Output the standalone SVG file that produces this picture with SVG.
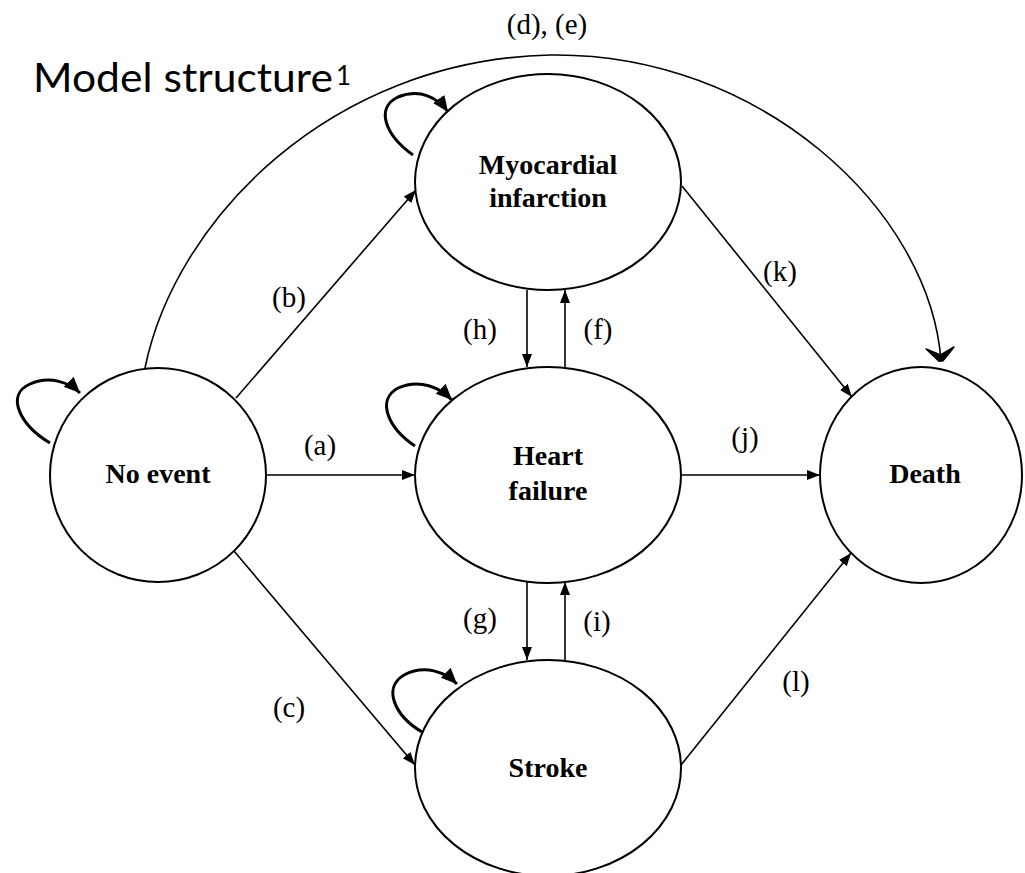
<svg xmlns="http://www.w3.org/2000/svg" width="1025" height="873" viewBox="0 0 1025 873">
  <defs>
    <style>
      .node { fill: #ffffff; stroke: #000000; stroke-width: 2; }
      .edge { fill: none; stroke: #000000; stroke-width: 1.6; }
      .loop { fill: none; stroke: #000000; stroke-width: 3; }
      .name { font-family: "Liberation Serif", "Times New Roman", serif; font-weight: bold; font-size: 28px; text-anchor: middle; fill: #000000; }
      .lbl { font-family: "Liberation Serif", "Times New Roman", serif; font-size: 29px; text-anchor: middle; fill: #000000; }
      .title { font-family: "Lato", "Liberation Sans", sans-serif; font-size: 40px; fill: #000000; }
    </style>
    <marker id="tri" markerUnits="userSpaceOnUse" markerWidth="14" markerHeight="12" viewBox="0 0 14 12" refX="13" refY="6" orient="auto">
      <path d="M0,1 L13,6 L0,11 Z" fill="#000000"/>
    </marker>
    <marker id="triLoop" markerUnits="userSpaceOnUse" markerWidth="18" markerHeight="16" viewBox="0 0 18 16" refX="16" refY="8" orient="auto">
      <path d="M0,1 L16,8 L0,15 Z" fill="#000000"/>
    </marker>
    <marker id="chev" markerUnits="userSpaceOnUse" markerWidth="20" markerHeight="32" viewBox="0 0 20 32" refX="16" refY="16" orient="auto">
      <path d="M3,2 L16,14 L16,18 L3,30 L10,16 Z" fill="#000000" stroke="#000000" stroke-width="1.5" stroke-linejoin="round"/>
    </marker>
  </defs>

  <rect width="1025" height="873" fill="#ffffff"/>

  <!-- title -->
  <text class="title" x="33" y="92" textLength="300" lengthAdjust="spacingAndGlyphs">Model structure</text>
  <text class="title" x="336" y="85" style="font-size:26px">1</text>

  <!-- transitions -->
  <g id="connectors">
    <!-- (d), (e): No event to Death -->
    <path class="edge" d="M145,368 C175,220 330,60 550,55 C760,52 930,210 941,361" marker-end="url(#chev)"/>
    <!-- (a) -->
    <line class="edge" x1="267" y1="475" x2="415" y2="475" marker-end="url(#tri)"/>
    <!-- (b) -->
    <line class="edge" x1="236" y1="398" x2="416" y2="190" marker-end="url(#tri)"/>
    <!-- (c) -->
    <line class="edge" x1="234" y1="551" x2="415" y2="765" marker-end="url(#tri)"/>
    <!-- (h) / (f) -->
    <line class="edge" x1="527" y1="290" x2="527" y2="367" marker-end="url(#tri)"/>
    <line class="edge" x1="565" y1="367" x2="565" y2="290" marker-end="url(#tri)"/>
    <!-- (g) / (i) -->
    <line class="edge" x1="527" y1="582" x2="527" y2="660" marker-end="url(#tri)"/>
    <line class="edge" x1="565" y1="660" x2="565" y2="582" marker-end="url(#tri)"/>
    <!-- (j) -->
    <line class="edge" x1="681" y1="475" x2="820" y2="475" marker-end="url(#tri)"/>
    <!-- (k) -->
    <line class="edge" x1="682" y1="186" x2="852" y2="397" marker-end="url(#tri)"/>
    <!-- (l) -->
    <line class="edge" x1="681" y1="765" x2="851" y2="553" marker-end="url(#tri)"/>

    <!-- self transitions -->
    <path class="loop" d="M50,443 C20,425 5,395 30,384 C50,375 70,383 80,393" marker-end="url(#triLoop)"/>
    <path class="loop" d="M413,155 C385,135 375,108 398,97 C420,88 438,98 448,112" marker-end="url(#triLoop)"/>
    <path class="loop" d="M415,446 C388,428 376,400 398,388 C420,378 440,388 452,400" marker-end="url(#triLoop)"/>
    <path class="loop" d="M422,732 C395,716 382,688 404,675 C425,664 445,672 457,684" marker-end="url(#triLoop)"/>
  </g>

  <!-- transition labels -->
  <g id="labels">
    <text class="lbl" x="547" y="34">(d), (e)</text>
    <text class="lbl" x="320" y="455">(a)</text>
    <text class="lbl" x="289" y="307">(b)</text>
    <text class="lbl" x="289" y="717">(c)</text>
    <text class="lbl" x="480" y="339">(h)</text>
    <text class="lbl" x="598" y="339">(f)</text>
    <text class="lbl" x="480" y="628">(g)</text>
    <text class="lbl" x="597" y="631">(i)</text>
    <text class="lbl" x="780" y="281">(k)</text>
    <text class="lbl" x="745" y="447">(j)</text>
    <text class="lbl" x="796" y="691">(l)</text>
  </g>

  <!-- states -->
  <g id="no-event">
    <ellipse class="node" cx="158" cy="475" rx="108" ry="107"/>
    <text class="name" x="158" y="483">No event</text>
  </g>
  <g id="myocardial-infarction">
    <ellipse class="node" cx="548" cy="182" rx="133" ry="108"/>
    <text class="name" x="548" y="174">Myocardial</text>
    <text class="name" x="548" y="207">infarction</text>
  </g>
  <g id="heart-failure">
    <ellipse class="node" cx="548" cy="475" rx="133" ry="108"/>
    <text class="name" x="548" y="465">Heart</text>
    <text class="name" x="548" y="500">failure</text>
  </g>
  <g id="stroke">
    <ellipse class="node" cx="548" cy="768" rx="133" ry="108"/>
    <text class="name" x="548" y="777">Stroke</text>
  </g>
  <g id="death">
    <ellipse class="node" cx="921" cy="475" rx="101" ry="108"/>
    <text class="name" x="925" y="483">Death</text>
  </g>
</svg>
